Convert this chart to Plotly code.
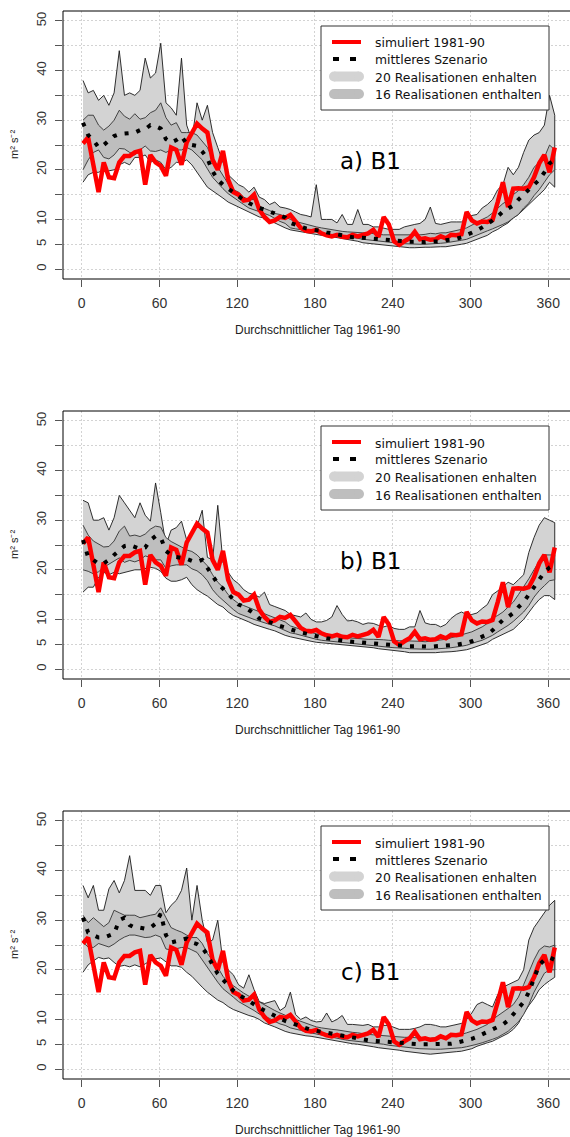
import plotly.graph_objects as go

W, H = 570, 1137

# Durchschnittlicher Tag (every 4th day of the year)
day = list(range(1, 366, 4))

# Simulated 1981-90 (identical in every panel)
sim_1981_90 = [
    25.3, 26.5, 21, 15.5, 21.5, 18.5, 18.3, 21.5, 22.8, 22.8,
    23.5, 23.8, 17, 23, 21.5, 20.8, 18.8, 24.5, 24, 21,
    25.5, 27.5, 29.3, 28.3, 27.5, 22, 20, 23.8, 18, 15.5,
    15, 13.8, 14, 15, 12, 10.5, 9.5, 9.8, 10.5, 10.3,
    10.9, 9.6, 8.3, 7.7, 7.6, 7.9, 7.2, 6.8, 6.6, 6.9,
    6.5, 6.4, 6.9, 6.6, 6.8, 7.2, 7.9, 6.5, 10.5, 9,
    5.6, 4.9, 5.6, 6.2, 7.5, 6, 6.2, 5.9, 6, 6.6,
    6.2, 6.9, 6.8, 7, 11.5, 9.8, 9.2, 9.6, 9.5, 9.9,
    13.5, 17.5, 12.5, 16.2, 16.3, 16.2, 16.5, 18.5, 21.3, 23,
    19.5, 24.5,
]

# ---- a) B1 ----
mean_a = [
    29.5, 27, 26, 24.5, 25, 26, 26.8, 27.2, 27.3, 27.3,
    27.5, 28, 28.2, 29, 28.8, 28.3, 26.2, 25.5, 26, 26.8,
    25.2, 25, 24.8, 23.7, 22.3, 19.7, 18, 17, 16.2, 15.3,
    14.5, 13.9, 13.3, 12.7, 12.3, 12, 11.6, 11.2, 10.8, 10.4,
    9.3, 8.9, 8.6, 8.2, 8, 7.9, 7.7, 7.4, 7.2, 6.9,
    6.7, 6.5, 6.4, 6.4, 6.3, 6.2, 6.1, 6, 5.9, 5.8,
    5.7, 5.7, 5.6, 5.5, 5.5, 5.4, 5.4, 5.5, 5.5, 5.6,
    5.8, 5.9, 6.1, 6.4, 6.8, 7.3, 7.8, 8.4, 9, 9.8,
    10.6, 11.6, 12.2, 12.8, 14, 15, 16, 16.8, 18, 19.5,
    21.3, 22,
]
outer_hi_a = [
    38, 35.5, 36, 34, 35, 33, 35.5, 44, 35, 35.5,
    35, 36, 42.5, 38.5, 39.5, 45.5, 33.5, 32.5, 31, 42.5,
    29, 26, 33.5, 30, 33, 27.5, 24.5, 21.5, 19, 18,
    17, 16.5, 15.5, 16.5, 14.5, 14, 13, 13.5, 12.5, 12.3,
    12, 11.5, 11, 10.8, 10.5, 17, 10, 10, 10, 9.3,
    11, 9, 9, 12, 9, 9, 8.5, 8.5, 8.2, 8,
    8, 8, 8.5, 8.8, 9, 9.2, 10, 12.5, 9.2, 9,
    9.3, 9.5, 9.5, 9.5, 10.3, 10.8, 11, 12.3, 13, 14,
    16, 17, 20.5, 19, 20.5, 23.5, 26, 27, 27.5, 29,
    35, 31,
]
outer_lo_a = [
    17.5, 19, 19.5, 19.5, 20, 19.8, 20, 21, 21.5, 21,
    22.5, 22.5, 23, 21.5, 22, 21.5, 20, 20.5, 21.5, 21.5,
    22, 21, 19.5, 18, 16.5, 15.8, 15, 14.3, 13.5, 13,
    12.5, 12, 11.5, 11, 10.5, 10.3, 9.8, 9.3, 8.8, 8.3,
    7.9, 7.7, 7.6, 7.4, 7.1, 7, 6.8, 6.7, 6.5, 6.3,
    6.1, 6, 5.8, 5.6, 5.3, 5.2, 5, 4.9, 4.8, 4.7,
    4.6, 4.5, 4.4, 4.3, 4.3, 4.3, 4.4, 4.4, 4.4, 4.5,
    4.5, 4.6, 4.8, 5, 5.2, 5.5, 6, 6.4, 6.8, 7.5,
    8, 8.7, 9.3, 10.3, 11, 12, 13, 14, 15, 16,
    17.5, 16.5,
]
inner_hi_a = [
    30, 31, 31, 29, 28, 28.8, 30, 32, 30.8, 30.2,
    31.3, 30.2, 30.5, 31.5, 32, 33.5, 30.5, 29, 29.5, 27.5,
    27.5, 27.5, 27, 25.8, 24.5, 22.2, 20.5, 19, 17.2, 16,
    15.5, 14.5, 14, 14, 12.7, 12.2, 11.8, 11.2, 11, 10.6,
    10, 9.6, 9.3, 9, 8.7, 8.5, 8.3, 8.1, 8, 7.8,
    7.6, 7.5, 7.4, 7.4, 7.3, 7.3, 7.1, 7, 6.9, 6.9,
    6.8, 6.8, 6.8, 6.8, 6.8, 6.9, 7, 7.2, 7.1, 7.3,
    7.3, 7.5, 7.7, 8, 8.3, 8.8, 9.4, 10, 10.5, 11.3,
    12.2, 13.2, 13.8, 15, 15.8, 17, 18.5, 20.5, 21.5, 22.5,
    25, 24,
]
inner_lo_a = [
    20, 22, 23.5, 24, 22.5, 22.2, 23, 24.3, 24.2, 23.5,
    23, 24, 24.8, 23.8, 23.7, 24, 23.5, 24, 24, 24,
    24.5, 24, 23, 22, 20.2, 18.5, 17.3, 16.2, 15.2, 14.5,
    13.7, 13, 12.3, 12, 11.6, 11.2, 10.8, 10.2, 9.6, 9.2,
    8.3, 8.1, 7.9, 7.8, 7.6, 7.4, 7.3, 7.1, 6.9, 6.8,
    6.6, 6.5, 6.3, 6.2, 6, 5.9, 5.8, 5.6, 5.5, 5.4,
    5.3, 5.2, 5.1, 5, 5, 5, 5, 5, 5.1, 5.2,
    5.3, 5.4, 5.6, 5.8, 6, 6.4, 6.9, 7.3, 7.7, 8.1,
    8.5, 9, 9.5, 10.3, 11, 12.3, 13.3, 14.8, 16, 17.5,
    19, 20,
]

# ---- b) B1 ----
mean_b = [
    26, 22.5, 22, 21.2, 21.3, 22, 23, 24, 24.8, 25,
    24.6, 24.2, 24.5, 26, 26.8, 26.5, 23.8, 23, 22.6, 22.5,
    22.2, 21.8, 21.6, 22, 20.5, 18.8, 17.2, 16.2, 15.1, 13.9,
    13, 12.6, 12, 11.2, 10.2, 9.9, 9.5, 9.1, 8.7, 8.3,
    8, 7.7, 7.4, 7.1, 6.8, 6.6, 6.4, 6.2, 6, 5.9,
    5.7, 5.6, 5.5, 5.4, 5.3, 5.3, 5.2, 5.2, 5.1, 5,
    4.9, 4.8, 4.7, 4.6, 4.6, 4.5, 4.5, 4.5, 4.6, 4.6,
    4.7, 4.8, 4.9, 5, 5.3, 5.6, 6, 6.4, 7, 7.8,
    9, 9.9, 10.5, 11.3, 12.5, 13.5, 15, 16.5, 18, 19.5,
    20.5, 21,
]
outer_hi_b = [
    34, 33.5, 30, 30, 30.5, 28, 30.5, 35, 33.5, 32,
    30.5, 33.5, 31, 29.8, 37.5, 31.5, 25, 28, 28.5, 29.8,
    26, 27, 28.8, 32, 22.5, 22, 33, 21.5, 19.5, 18,
    17.2, 16, 15.3, 15, 14.5, 15.5, 13, 12.6, 12.2, 11.8,
    11, 10.8, 10.5, 11.3, 10, 9.5, 9.5, 9.8, 10.5, 12.8,
    11, 9.7, 9.8, 9.5, 9, 9.3, 9.2, 8.8, 8.5, 8.8,
    8.2, 8, 8, 8.5, 8.5, 11.8, 9.3, 9, 9, 8.5,
    9, 10.2, 11, 11.5, 11, 11, 11.3, 12.2, 13, 15,
    15.7, 16.5, 17.5, 17, 18, 19, 23.5, 26.5, 29, 30.5,
    30, 29.5,
]
outer_lo_b = [
    15.5, 16.5, 16.5, 18.5, 19.5, 19, 19.5, 19.2, 19.5, 19.7,
    20, 20, 20.3, 20.5, 20.3, 19.7, 18.3, 17.7, 17.7, 18,
    18.5, 17, 16, 15.3, 14.7, 13.8, 13, 12.5, 11.5, 10.8,
    10.3, 9.9, 9.5, 9, 8.7, 8.3, 8, 7.7, 7.3, 6.8,
    6.5, 6.3, 6, 5.8, 5.6, 5.4, 5.2, 5.1, 5, 4.9,
    4.8, 4.7, 4.6, 4.5, 4.5, 4.4, 4.3, 4.1, 4, 3.9,
    3.7, 3.6, 3.5, 3.3, 3.2, 3.2, 3.2, 3.3, 3.3, 3.4,
    3.5, 3.5, 3.6, 3.7, 3.9, 4.2, 4.5, 4.9, 5.3, 6,
    6.5, 7, 7.5, 8, 9, 10, 11.3, 12.8, 14, 14.8,
    14.8, 14,
]
inner_hi_b = [
    29, 27, 25.8, 25.2, 24.6, 24.7, 25.8, 27.8, 28.8, 26.8,
    27, 26.7, 27.2, 28.2, 28.8, 28.6, 26.5, 25.7, 25.2, 24.6,
    24, 23.7, 23, 21.9, 20.8, 19, 17.5, 16.5, 15, 14,
    13.2, 12.8, 12.4, 12, 11.6, 11.2, 10.8, 10.4, 9.9, 9.5,
    8.7, 8.3, 8, 7.7, 7.4, 7.1, 7, 6.9, 6.8, 6.6,
    6.4, 6.3, 6.2, 6.1, 6, 6, 6, 6, 5.9, 5.8,
    5.7, 5.7, 5.7, 5.7, 5.7, 5.6, 5.5, 5.6, 5.8, 5.9,
    6, 6.3, 6.6, 7, 7.2, 7.5, 8, 8.5, 9.2, 10.3,
    10.8, 11.5, 12.5, 13.5, 15, 16.5, 18.2, 20, 21.7, 23,
    23, 23,
]
inner_lo_b = [
    20, 19.7, 19.2, 19.6, 20.5, 21.2, 21.8, 22.4, 21.5, 21.9,
    21.6, 22, 22.8, 22.5, 22, 22, 20.3, 20.8, 21, 21,
    21, 20.2, 19.8, 19, 17.8, 16, 14.8, 13.8, 12.9, 12,
    11.2, 10.8, 10.4, 10, 9.7, 9.3, 9, 8.7, 8.3, 7.8,
    7.3, 7.1, 6.8, 6.6, 6.3, 6, 5.8, 5.7, 5.5, 5.4,
    5.3, 5.2, 5.1, 5.1, 5, 4.9, 4.8, 4.6, 4.5, 4.4,
    4.3, 4.2, 4.2, 4.1, 4, 4, 4, 4, 4, 4.1,
    4.2, 4.3, 4.4, 4.6, 4.8, 5.1, 5.5, 5.8, 6.3, 6.8,
    7.5, 8.2, 8.8, 9.6, 10.5, 11.5, 12.8, 14.5, 15.8, 16.8,
    17.8, 18,
]

# ---- c) B1 ----
mean_c = [
    30.5, 27.5, 27, 26.5, 26.5, 26.8, 27.3, 30, 30.5, 29,
    28.5, 28.5, 28.3, 28.5, 29.3, 31.3, 27, 25.5, 25.8, 26.1,
    26.3, 25.5, 25.2, 24.5, 23, 21, 19.2, 18, 16.8, 15.8,
    15, 14.3, 13.6, 13, 12.4, 11.8, 11.2, 10.7, 10.2, 9.7,
    9.3, 8.9, 8.6, 8.3, 7.9, 7.7, 7.5, 7.2, 7, 6.8,
    6.6, 6.5, 6.3, 6.1, 5.9, 5.8, 5.7, 5.6, 5.5, 5.4,
    5.3, 5.2, 5.1, 5, 5, 5, 5, 5, 5, 5,
    5, 5.1, 5.3, 5.5, 5.8, 6.1, 6.5, 7, 7.5, 8,
    8.5, 9, 9.8, 11, 12, 13.5, 15.5, 18.5, 21, 22,
    22.5, 22,
]
outer_hi_c = [
    37, 34.5, 37, 32, 32, 36.3, 38, 35.5, 38, 43,
    36, 36, 36, 35, 37, 37, 31.5, 33, 34, 36,
    40.5, 30, 37, 30, 25.5, 26, 30, 21.5, 20, 19,
    17, 16.3, 19, 16, 13.6, 13.2, 13.5, 13.8, 11.8, 12.5,
    15.5, 11, 10, 10.5, 9.8, 9.5, 9.6, 11.3, 9.5, 10,
    10.8, 9, 9, 8.9, 8.8, 9, 8.5, 8.5, 8.8, 8.8,
    8.4, 8, 8, 8, 8.2, 8.5, 9, 9, 8.8, 8.5,
    8.5, 8.7, 8.9, 9.2, 10, 11.3, 13, 13.5, 13, 12.5,
    15, 16.5, 17, 17.5, 18, 20, 26, 28.5, 30, 31.5,
    33, 34,
]
outer_lo_c = [
    19.5, 21, 21.8, 22.5, 22.2, 22.4, 21.5, 20.7, 20.9, 20.6,
    21, 20.6, 21.2, 21.8, 22.2, 22.4, 21.6, 20.8, 20.8, 20.5,
    19.5, 18.7, 17.7, 16.5, 15.5, 14.7, 13.9, 13.4, 12.6, 12,
    11.6, 11.2, 10.8, 10.5, 10, 9.3, 8.9, 8.5, 8.1, 7.6,
    7.3, 7, 6.9, 6.7, 6.6, 6.4, 6.2, 6, 5.8, 5.6,
    5.4, 5.3, 5.1, 5, 4.8, 4.7, 4.5, 4.3, 4.2, 4,
    3.9, 3.8, 3.6, 3.5, 3.4, 3.2, 3.1, 3, 3.1, 3.2,
    3.3, 3.4, 3.5, 3.6, 3.8, 4.1, 4.6, 5, 5.3, 5.6,
    6.2, 6.7, 7.2, 8, 9.2, 11.2, 12.8, 14.2, 16, 17,
    17.8, 18.5,
]
inner_hi_c = [
    31, 29.5, 30.5, 29.5, 28.7, 29.5, 32, 31.5, 31, 31,
    31, 30.5, 30.8, 31, 31.2, 32.5, 30.5, 28.5, 28, 27.6,
    27, 26.5, 26.5, 25.3, 23.3, 22, 20.5, 18.7, 17.5, 16.8,
    16, 15.3, 14.7, 14.1, 13.5, 12.9, 12.3, 11.8, 11.3, 10.8,
    10.4, 10, 9.6, 9.2, 8.8, 8.5, 8.3, 8.1, 8, 7.9,
    7.7, 7.5, 7.4, 7.3, 7.1, 7, 6.9, 6.8, 6.8, 6.7,
    6.6, 6.5, 6.4, 6.4, 6.3, 6.3, 6.2, 6.2, 6.3, 6.4,
    6.5, 6.7, 6.9, 7, 7.3, 7.6, 8, 8.5, 9, 10,
    10.7, 11.5, 12.2, 13, 14.5, 17, 19.5, 22, 24, 24.8,
    24.6, 25,
]
inner_lo_c = [
    25.5, 24.6, 24.5, 25.3, 25, 24.6, 25.2, 26, 26.6, 27,
    27, 26.7, 26.5, 26.6, 27, 26.6, 24.2, 24, 24.3, 24.5,
    24.5, 24, 23.5, 22.2, 20.6, 19, 17.5, 16.2, 15.3, 14.5,
    13.6, 12.9, 12.4, 11.8, 11.1, 10.6, 10.2, 9.6, 9.1, 8.8,
    8.3, 8, 7.8, 7.5, 7.2, 7, 6.8, 6.6, 6.4, 6.2,
    6, 5.8, 5.7, 5.6, 5.5, 5.4, 5.3, 5.1, 5, 4.8,
    4.7, 4.5, 4.4, 4.3, 4.2, 4.1, 4.1, 4, 4, 4,
    4, 4.1, 4.2, 4.3, 4.5, 4.7, 5, 5.3, 5.6, 6,
    6.4, 7, 7.6, 8.5, 9.5, 11, 13, 15.5, 17.5, 19.3,
    20, 20,
]

panel_tags = ["a) B1", "b) B1", "c) B1"]
legend_labels = ["simuliert 1981-90", "mittleres Szenario",
                 "20 Realisationen enhalten", "16 Realisationen enthalten"]
x_ticks = [0, 60, 120, 180, 240, 300, 360]
y_ticks = [0, 5, 10, 15, 20, 25, 30, 35, 40, 45, 50]
y_ticktext = ["0", "5", "10", "", "20", "", "30", "", "40", "", "50"]

panels = [
    (mean_a, outer_hi_a, outer_lo_a, inner_hi_a, inner_lo_a),
    (mean_b, outer_hi_b, outer_lo_b, inner_hi_b, inner_lo_b),
    (mean_c, outer_hi_c, outer_lo_c, inner_hi_c, inner_lo_c),
]

# layout geometry (pixels)
panel_top = [11, 411, 811]
box_h = 268
box_left = 63
tag_dy = [150, 150, 161]
C_OUTER = "#D3D3D3"
C_INNER = "#BEBEBE"


def fx(px):
    return px / W


def fy(py):
    return 1 - py / H


fig = go.Figure()
shapes = []
annotations = []

for i, (mean, ohi, olo, ihi, ilo) in enumerate(panels):
    sfx = "" if i == 0 else str(i + 1)
    xa, ya = "x" + sfx, "y" + sfx
    top = panel_top[i]

    fig.add_trace(go.Scatter(
        x=day + day[::-1], y=ohi + olo[::-1], fill="toself", fillcolor=C_OUTER,
        line=dict(color="#1a1a1a", width=0.9), mode="lines",
        xaxis=xa, yaxis=ya, showlegend=False, hoverinfo="skip"))
    fig.add_trace(go.Scatter(
        x=day + day[::-1], y=ihi + ilo[::-1], fill="toself", fillcolor=C_INNER,
        line=dict(color="#333333", width=0.9), mode="lines",
        xaxis=xa, yaxis=ya, showlegend=False, hoverinfo="skip"))
    fig.add_trace(go.Scatter(
        x=day, y=sim_1981_90, mode="lines",
        line=dict(color="#FF0000", width=4.5),
        xaxis=xa, yaxis=ya, showlegend=False, hoverinfo="skip"))
    fig.add_trace(go.Scatter(
        x=day, y=mean, mode="lines",
        line=dict(color="#000000", width=4, dash="4px,8px"),
        xaxis=xa, yaxis=ya, showlegend=False, hoverinfo="skip"))

    fig.layout["xaxis" + sfx] = dict(
        domain=[box_left / W, 1], range=[(box_left - 81.7) / 1.296, (W - 81.7) / 1.296],
        anchor=ya, tickvals=x_ticks, ticks="outside", ticklen=7, tickcolor="#555555",
        showgrid=True, gridcolor="#D3D3D3", griddash="2px,2px", gridwidth=1,
        zeroline=False, showline=False, ticklabelstandoff=4,
        tickfont=dict(family="Liberation Sans, Arial", size=14, color="#333333"))
    fig.layout["yaxis" + sfx] = dict(
        domain=[fy(top + box_h), fy(top)], range=[-2, 52], anchor=xa,
        tickvals=y_ticks, ticktext=y_ticktext, tickangle=-90,
        ticks="outside", ticklen=7, tickcolor="#555555",
        showgrid=True, gridcolor="#D3D3D3", griddash="2px,2px", gridwidth=1,
        zeroline=False, showline=False, ticklabelstandoff=4,
        tickfont=dict(family="Liberation Sans, Arial", size=13, color="#333333"))

    # plot frame
    shapes.append(dict(type="rect", xref="paper", yref="paper",
                       x0=fx(box_left), x1=fx(W + 10), y0=fy(top + box_h), y1=fy(top),
                       line=dict(color="#000000", width=1), layer="above"))

    # axis titles
    annotations.append(dict(text="Durchschnittlicher Tag 1961-90", xref="paper", yref="paper",
                            x=fx(318), y=fy(top + box_h + 51), showarrow=False,
                            xanchor="center", yanchor="middle",
                            font=dict(family="Liberation Sans, Arial", size=12, color="#222222")))
    annotations.append(dict(text="m² s⁻²", xref="paper", yref="paper",
                            x=fx(14), y=fy(top + box_h / 2), showarrow=False, textangle=-90,
                            xanchor="center", yanchor="middle",
                            font=dict(family="Liberation Sans, Arial", size=11, color="#222222")))

    # scenario tag
    annotations.append(dict(text=panel_tags[i], xref="paper", yref="paper",
                            x=fx(370), y=fy(top + tag_dy[i]), showarrow=False,
                            xanchor="center", yanchor="middle",
                            font=dict(family="DejaVu Sans", size=23, color="#000000")))

    # legend box
    shapes.append(dict(type="rect", xref="paper", yref="paper",
                       x0=fx(321), x1=fx(549), y0=fy(top + 99), y1=fy(top + 15),
                       fillcolor="white", line=dict(color="#333333", width=1), layer="above"))
    rows = [top + 31, top + 48, top + 65.5, top + 83]
    shapes.append(dict(type="line", xref="paper", yref="paper",
                       x0=fx(332), x1=fx(361), y0=fy(rows[0]), y1=fy(rows[0]),
                       line=dict(color="#FF0000", width=4), layer="above"))
    for a, b in [(333, 339), (350, 356)]:
        shapes.append(dict(type="line", xref="paper", yref="paper",
                           x0=fx(a), x1=fx(b), y0=fy(rows[1]), y1=fy(rows[1]),
                           line=dict(color="#000000", width=4), layer="above"))
    for r, col in [(rows[2], C_OUTER), (rows[3], C_INNER)]:
        shapes.append(dict(type="rect", xref="paper", yref="paper",
                           x0=fx(334), x1=fx(359), y0=fy(r + 5), y1=fy(r - 5),
                           fillcolor=col, line=dict(width=0), layer="above"))
        for cx in (334, 359):
            shapes.append(dict(type="circle", xref="paper", yref="paper",
                               x0=fx(cx - 5), x1=fx(cx + 5), y0=fy(r + 5), y1=fy(r - 5),
                               fillcolor=col, line=dict(width=0), layer="above"))
    for r, lab in zip(rows, legend_labels):
        annotations.append(dict(text=lab, xref="paper", yref="paper",
                                x=fx(373), y=fy(r + 1), showarrow=False,
                                xanchor="left", yanchor="middle",
                                font=dict(family="DejaVu Sans", size=12.4, color="#111111")))

fig.update_layout(
    width=W, height=H, autosize=False,
    margin=dict(l=0, r=0, t=0, b=0, pad=0),
    paper_bgcolor="white", plot_bgcolor="white",
    shapes=shapes, annotations=annotations, showlegend=False,
)

fig.write_html("out.html", config={"displayModeBar": False})
